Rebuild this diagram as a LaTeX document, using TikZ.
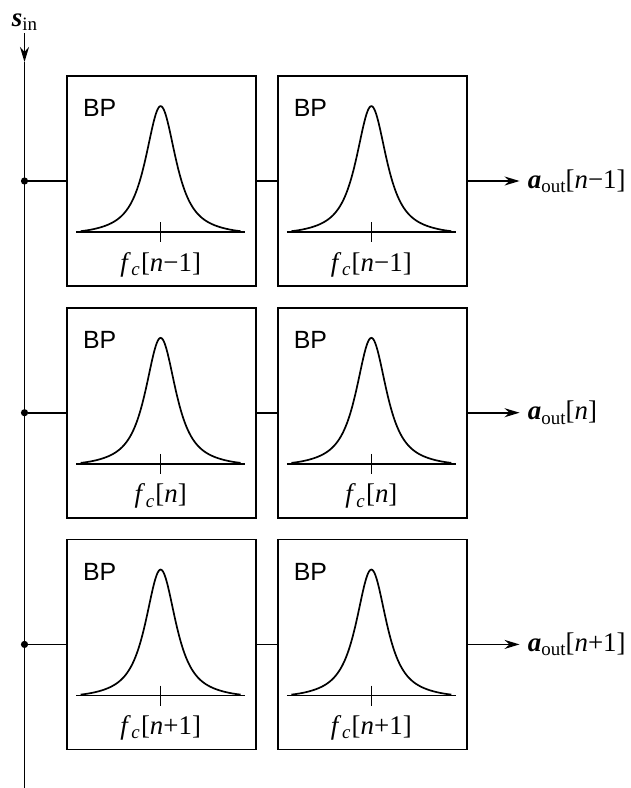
\documentclass[tikz,border=0pt]{standalone}
\usepackage{fontspec}
\setmainfont{Liberation Serif}
\newfontfamily\bpfont{Liberation Sans}
\usetikzlibrary{positioning,arrows.meta}

\newcommand{\lowsub}[1]{\raisebox{-0.35ex}{\fontsize{9.5}{10}\selectfont #1}}
\newcommand{\fclabel}[1]{\textit{f}\kern0.3pt\lowsub{\textit{c}}\kern0.6pt[#1]}
\newcommand{\aoutlabel}[1]{\textbf{\textit{a}}\lowsub{out}[#1]}
% contents of one band-pass block, relative to the box node
\newcommand{\bpinside}[2]{%
  \node[bptext] (#1bp) at ([shift={(16.5,24)}]#1.north west) {BP};
  \draw[axis] ([shift={(10,157)}]#1.north west) -- ([shift={(179,157)}]#1.north west);
  \draw[axis] ([shift={(94.5,147)}]#1.north west) -- ([shift={(94.5,167)}]#1.north west);
  \draw[wire, shift={(#1.north west)}] plot[domain=-80:80, samples=161, smooth]
    ({94.5+\x}, {157-126*exp(-(\x/80)^6)/((1+(\x/23)*(\x/23))^1.5)});
  \node[fclab] (#1lab) at ([shift={(94.5,196)}]#1.north west) {\fclabel{#2}};
}

\begin{document}
\begin{tikzpicture}[
    x=0.5bp, y=-0.5bp,
    node distance=10bp and 10bp,
    bpbox/.style={draw, line width=0.85bp, minimum width=94.5bp, minimum height=105bp, inner sep=0pt},
    bptext/.style={font=\bpfont\fontsize{12.5}{14}\selectfont, inner sep=0pt, anchor=north west},
    fclab/.style={font=\fontsize{13.5}{16}\selectfont, inner sep=0pt, anchor=base},
    outlab/.style={font=\fontsize{13.5}{16}\selectfont, inner sep=4bp, anchor=west},
    wire/.style={line width=0.85bp},
    axis/.style={line width=0.75bp},
    arr/.style={wire, -{Stealth[length=7.5bp, width=4.5bp]}},
    junc/.style={circle, fill, inner sep=0pt, minimum size=3.6bp}
]
  \useasboundingbox (0,0) rectangle (631,788);

  % filter bank
  \node[bpbox] (b11) at (161.5,181) {};
  \node[bpbox, right=of b11] (b12) {};
  \node[bpbox, below=of b11] (b21) {};
  \node[bpbox, right=of b21] (b22) {};
  \node[bpbox, below=of b21] (b31) {};
  \node[bpbox, right=of b31] (b32) {};

  \bpinside{b11}{\textit{n}−1}
  \bpinside{b12}{\textit{n}−1}
  \bpinside{b21}{\textit{n}}
  \bpinside{b22}{\textit{n}}
  \bpinside{b31}{\textit{n}+1}
  \bpinside{b32}{\textit{n}+1}

  % input bus
  \coordinate (top) at (24.5,33);
  \coordinate (tip) at (24.5,62);
  \coordinate (bot) at (24.5,788);
  \node[font=\fontsize{13.5}{16}\selectfont, anchor=south, inner sep=1bp] (sin) at (top)
       {\textbf{\textit{s}}\lowsub{in}};
  \draw[arr] (sin) -- (tip);
  \draw[wire] (tip) -- (bot);

  \node[junc] (j1) at (top |- b11.west) {};
  \node[junc] (j2) at (top |- b21.west) {};
  \node[junc] (j3) at (top |- b31.west) {};

  % outputs
  \node[outlab, right=26bp of b12] (a1) {\aoutlabel{\textit{n}−1}};
  \node[outlab, right=26bp of b22] (a2) {\aoutlabel{\textit{n}}};
  \node[outlab, right=26bp of b32] (a3) {\aoutlabel{\textit{n}+1}};

  \draw[wire] (j1) -- (b11);
  \draw[wire] (b11) -- (b12);
  \draw[arr] (b12) -- (a1);
  \draw[wire] (j2) -- (b21);
  \draw[wire] (b21) -- (b22);
  \draw[arr] (b22) -- (a2);
  \draw[wire] (j3) -- (b31);
  \draw[wire] (b31) -- (b32);
  \draw[arr] (b32) -- (a3);
\end{tikzpicture}
\end{document}
